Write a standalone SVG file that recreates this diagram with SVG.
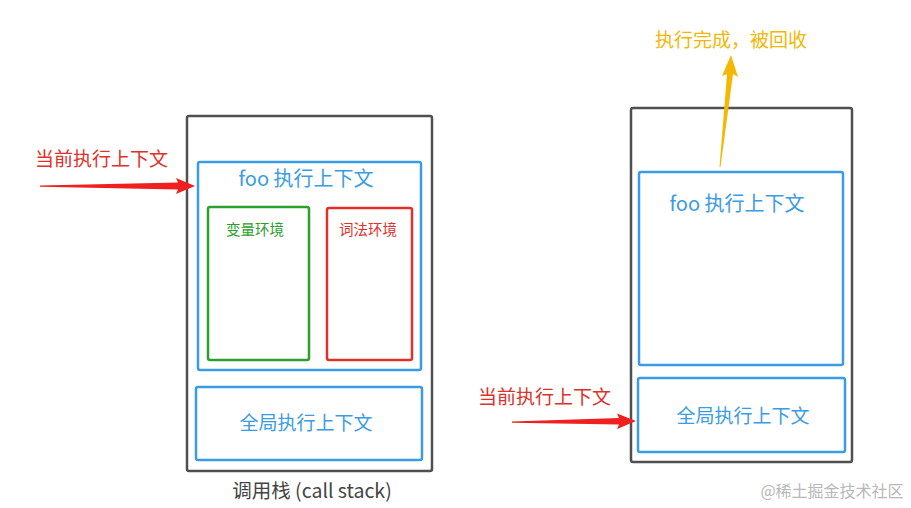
<svg xmlns="http://www.w3.org/2000/svg" width="911" height="508" viewBox="0 0 911 508">
<style>
.t{font-family:"Noto Sans CJK SC","Noto Sans",sans-serif}
.stack{fill:#fff;stroke:#505050;stroke-width:2.5}
.blue{fill:none;stroke:#3a9ce4;stroke-width:2.5}
.bt{fill:#3a9ce4}
</style>
<rect width="911" height="508" fill="#fff"/>
<g id="left-stack">
<rect class="stack" x="187" y="116" width="245" height="355" rx="2"/>
<text class="t" x="312" y="498" font-size="19.5" fill="#444" text-anchor="middle">调用栈 (call stack)</text>
</g>
<g id="left-foo">
<rect class="blue" x="198" y="162" width="223" height="208" rx="2"/>
<text class="t bt" x="306" y="186" font-size="20" text-anchor="middle">foo 执行上下文</text>
</g>
<g id="var-env">
<rect x="208" y="207" width="101" height="153" rx="2" fill="none" stroke="#2ca02c" stroke-width="2.5"/>
<text class="t" x="255" y="235" font-size="14.5" fill="#2ca02c" text-anchor="middle">变量环境</text>
</g>
<g id="lex-env">
<rect x="327" y="208" width="85" height="152" rx="2" fill="none" stroke="#e0302a" stroke-width="2.5"/>
<text class="t" x="368" y="235" font-size="14.5" fill="#e0302a" text-anchor="middle">词法环境</text>
</g>
<g id="left-global">
<rect class="blue" x="196" y="387" width="226" height="73" rx="2"/>
<text class="t bt" x="306" y="430" font-size="19" text-anchor="middle">全局执行上下文</text>
</g>
<g id="right-stack">
<rect class="stack" x="631" y="108" width="221" height="354" rx="2"/>
</g>
<g id="right-foo">
<rect class="blue" x="639" y="172" width="204" height="193" rx="2"/>
<text class="t bt" x="737" y="211" font-size="20" text-anchor="middle">foo 执行上下文</text>
</g>
<g id="right-global">
<rect class="blue" x="638" y="378" width="207" height="74" rx="2"/>
<text class="t bt" x="743" y="423" font-size="19" text-anchor="middle">全局执行上下文</text>
</g>
<g id="labels">
<text class="t" x="35" y="166" font-size="19" fill="#e0302a">当前执行上下文</text>
<text class="t" x="478" y="404" font-size="19" fill="#e0302a">当前执行上下文</text>
<text class="t" x="731" y="47" font-size="19" fill="#f2b705" text-anchor="middle">执行完成，被回收</text>
<text class="t" x="832" y="497" font-size="16" fill="#b8b8b8" text-anchor="middle">@稀土掘金技术社区</text>
</g>
<g id="connectors">
<polygon points="40,185.5 178,182.5 176,178 195,186 176,194 178,189.5 40,186.8" fill="#f02020"/>
<polygon points="512,421.5 619,418 617,413.5 636,421 617,429 619,424.5 512,422.8" fill="#f02020"/>
<polygon points="719.5,167 727,74 722,76 731,55 738,77 733,74 720.5,167" fill="#f5b800"/>
</g>
</svg>
